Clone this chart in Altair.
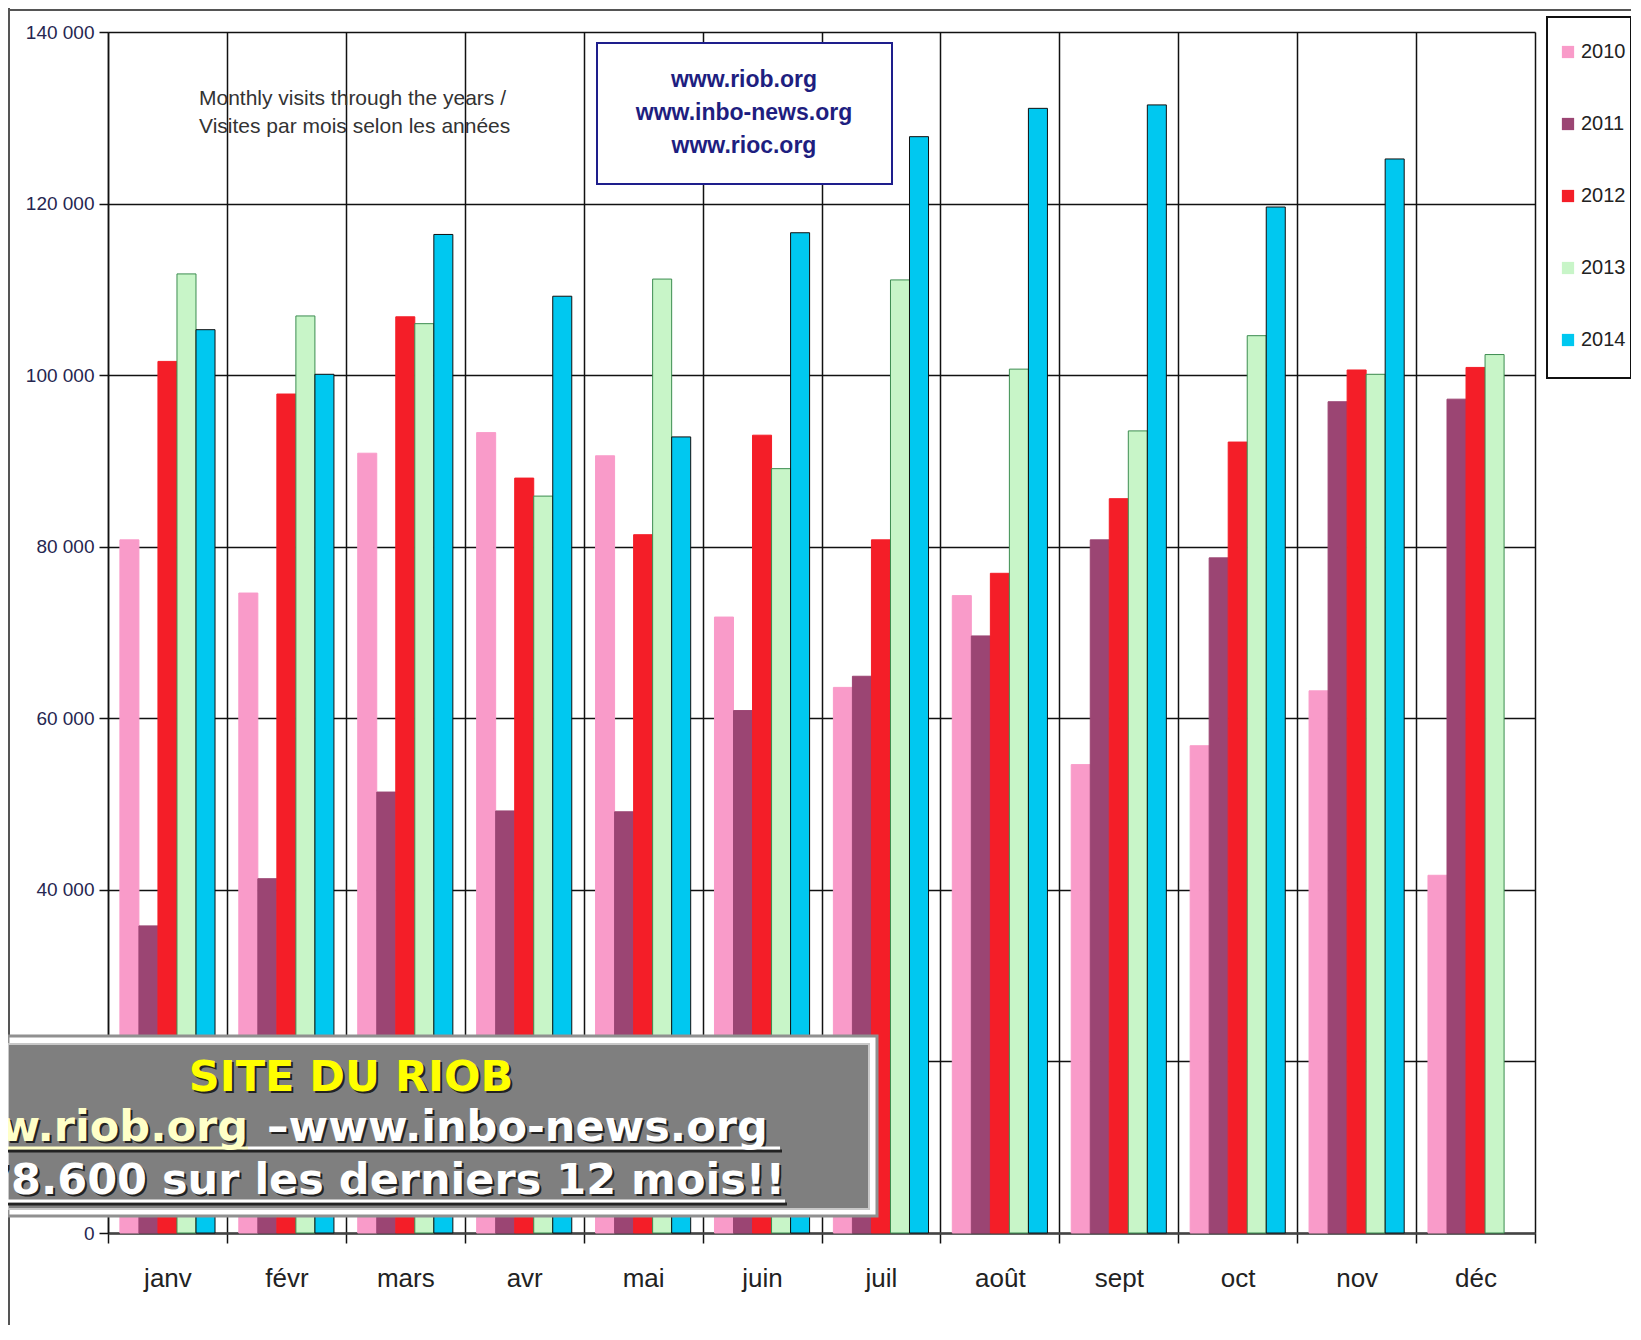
import altair as alt
import pandas as pd

months = ["janv", "févr", "mars", "avr", "mai", "juin", "juil", "août", "sept", "oct", "nov", "déc"]
years = ["2010", "2011", "2012", "2013", "2014"]
v2010 = [80800, 74600, 90900, 93300, 90600, 71800, 63600, 74300, 54600, 56800, 63200, 41700]
v2011 = [35800, 41300, 51400, 49200, 49100, 60900, 64900, 69600, 80800, 78700, 96900, 97200]
v2012 = [101600, 97800, 106800, 88000, 81400, 93000, 80800, 76900, 85600, 92200, 100600, 100900]
v2013 = [111800, 106900, 106000, 85900, 111200, 89100, 111100, 100700, 93500, 104600, 100100, 102400]
v2014 = [105300, 100100, 116400, 109200, 92800, 116600, 127800, 131100, 131500, 119600, 125200, None]
fills = ["#F99BC9", "#9B4573", "#F41E28", "#C8F5C8", "#00C8F0"]
strokes = ["#F99BC9", "#9B4573", "#F41E28", "#3C8C50", "#101010"]

rows = []
for yr, vals in zip(years, [v2010, v2011, v2012, v2013, v2014]):
    for m, v in zip(months, vals):
        if v is not None:
            rows.append({"mois": m, "annee": yr, "visites": v})
df = pd.DataFrame(rows)

W, H = 1427, 1201
FONT = "Liberation Sans"
BIG = "DejaVu Sans"

bars = alt.Chart(df).mark_bar(strokeWidth=1).encode(
    x=alt.X("mois:N", sort=months, title=None,
            scale=alt.Scale(paddingInner=0, paddingOuter=0),
            axis=alt.Axis(labelAngle=0, labelFontSize=26, labelFont=FONT, labelColor="#222222",
                          labelPadding=22, tickSize=10, tickColor="#111111", tickWidth=1.5,
                          domainColor="#444444", domainWidth=2.5, grid=True, gridColor="#111111",
                          gridWidth=1.5, tickBand="extent")),
    xOffset=alt.XOffset("annee:N", sort=years, scale=alt.Scale(paddingInner=0, paddingOuter=0.625)),
    y=alt.Y("visites:Q", title=None,
            scale=alt.Scale(domain=[0, 140000], nice=False),
            axis=alt.Axis(values=[0, 20000, 40000, 60000, 80000, 100000, 120000, 140000],
                          labelExpr="datum.value == 0 ? '0' : format(datum.value/1000, 'd') + ' 000'",
                          labelFontSize=19, labelFont=FONT, labelColor="#262650",
                          tickSize=9, tickColor="#111111", tickWidth=1.5, labelPadding=5,
                          domainColor="#111111", domainWidth=1.5, grid=True,
                          gridColor="#111111", gridWidth=1.5)),
    color=alt.Color("annee:N", sort=years, title=None,
                    scale=alt.Scale(domain=years, range=fills),
                    legend=alt.Legend(orient="none", legendX=1450, legendY=10, direction="vertical",
                                      symbolType="square", symbolSize=150, labelFontSize=20,
                                      labelFont=FONT, labelColor="#222222", rowPadding=52,
                                      padding=0, labelOffset=3, symbolStrokeWidth=0)),
    stroke=alt.Stroke("annee:N", sort=years, scale=alt.Scale(domain=years, range=strokes), legend=None),
)

one = pd.DataFrame({"k": [0]})


def rect(x, x2, y, y2, **kw):
    return alt.Chart(one).mark_rect(**kw).encode(
        x=alt.value(x), x2=alt.value(x2), y=alt.value(y), y2=alt.value(y2))


def rule(x, x2, y, y2, **kw):
    return alt.Chart(one).mark_rule(**kw).encode(
        x=alt.value(x), x2=alt.value(x2), y=alt.value(y), y2=alt.value(y2))


def text(t, x, y, **kw):
    return alt.Chart(pd.DataFrame({"t": [t]})).mark_text(**kw).encode(
        x=alt.value(x), y=alt.value(y), text="t:N")


layers = [bars]

# outer frame of the picture
layers.append(rule(-100, W + 96, -22, -22, color="#555555", strokeWidth=2))
layers.append(rule(-99, -99, -24, H + 92, color="#555555", strokeWidth=2))

# subtitle text
sub_lines = ["Monthly visits through the years /", "Visites par mois selon les années"]
for i, ln in enumerate(sub_lines):
    layers.append(text(ln, 91, 67 + 28 * i, align="left", baseline="middle",
                       font=FONT, fontSize=21, color="#333333"))

# blue box with site names
layers.append(rect(489, 784, 11, 152, fill="white", stroke="#1E1E8C", strokeWidth=2))
sites = ["www.riob.org", "www.inbo-news.org", "www.rioc.org"]
for i, s in enumerate(sites):
    layers.append(text(s, 636, 48 + 33 * i, align="center", baseline="middle", font=FONT,
                       fontSize=23, fontWeight="bold", color="#1E1E80"))

# legend border
layers.append(rect(1439, 1523, -15, 346, fill="white", fillOpacity=0, stroke="#111111", strokeWidth=2))

# grey banner
layers.append(rect(-100, 769, 1004, 1184, fill="white", stroke="#909090", strokeWidth=3))
layers.append(rect(-100, 761, 1012, 1177, fill="#7F7F7F", stroke="#C8C8C8", strokeWidth=2))

banner_kw = dict(font=BIG, fontSize=43, fontWeight="bold", baseline="middle")
# shadows
layers.append(text("SITE DU RIOB", 245, 1048, align="center", color="#222222", **banner_kw))
layers.append(text("www.riob.org", 142, 1098, align="right", color="#222222", **banner_kw))
layers.append(text("–www.inbo-news.org", 161, 1098, align="left", color="#222222", **banner_kw))
layers.append(text("78.600 sur les derniers 12 mois!!", 679, 1151, align="right", color="#222222", **banner_kw))
layers.append(rule(-100, 674, 1119, 1119, color="#222222", strokeWidth=3))
layers.append(rule(-100, 679, 1172, 1172, color="#222222", strokeWidth=3))
# texts
layers.append(text("SITE DU RIOB", 243, 1046, align="center", color="#FFFF00", **banner_kw))
layers.append(text("www.riob.org", 140, 1096, align="right", color="#FFFFC8", **banner_kw))
layers.append(text("–www.inbo-news.org", 159, 1096, align="left", color="#FFFFFF", **banner_kw))
layers.append(text("78.600 sur les derniers 12 mois!!", 677, 1149, align="right", color="#FFFFFF", **banner_kw))
layers.append(rule(-100, 140, 1116, 1116, color="#FFFFC8", strokeWidth=3))
layers.append(rule(140, 672, 1116, 1116, color="#FFFFFF", strokeWidth=3))
layers.append(rule(-100, 677, 1169, 1169, color="#FFFFFF", strokeWidth=3))

chart = alt.layer(*layers).properties(
    width=W, height=H,
    autosize=alt.AutoSizeParams(type="none"),
    padding={"left": 100, "top": 24, "right": 96, "bottom": 92},
).configure_view(stroke=None).configure(background="white")

chart.save("out.html", embed_options={"renderer": "svg", "actions": False})
